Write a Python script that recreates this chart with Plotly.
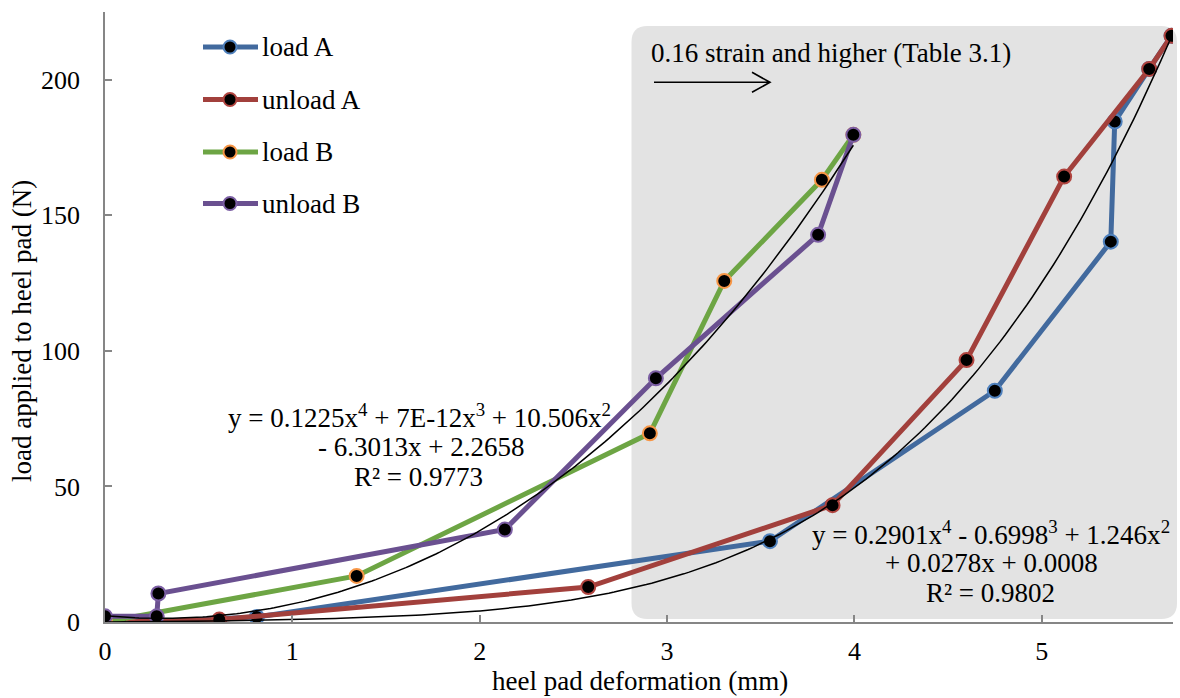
import numpy as np
import plotly.graph_objects as go

# ---------------- data ----------------
load_a_x = [0.204, 0.81, 3.549, 4.749, 5.368, 5.389, 5.573, 5.692]
load_a_y = [0.0, 1.85, 29.8, 85.3, 140.3, 184.6, 204.0, 216.2]

unload_a_x = [5.692, 5.573, 5.119, 4.598, 3.883, 2.579, 0.610, 0.080]
unload_a_y = [216.2, 204.0, 164.3, 96.6, 43.1, 12.9, 0.9, 0.0]

load_b_x = [0.0, 1.343, 2.908, 3.305, 3.826, 3.994]
load_b_y = [0.0, 17.0, 69.6, 125.8, 163.1, 179.7]

unload_b_x = [3.994, 3.806, 2.940, 2.134, 0.285, 0.276, 0.0]
unload_b_y = [179.7, 142.8, 89.9, 34.1, 10.5, 2.1, 2.1]

# polynomial trendline coefficients as printed on the chart (x^4 .. x^0)
trend_a_coef = [0.2901, -0.6998, 1.246, 0.0278, 0.0008]
trend_b_coef = [0.1225, 7e-12, 10.506, -6.3013, 2.2658]

series_names = ["load A", "unload A", "load B", "unload B"]
line_colors = ["#426A9E", "#A2403C", "#6DA544", "#6A5090"]
edge_colors = ["#4F81BD", "#B0443F", "#F79646", "#7B5EA3"]

FONT = "Liberation Serif, Times New Roman, serif"
TXT = 27

# ---------------- layout geometry ----------------
W, H = 1180, 698
ML, MR, MT, MB = 105, 7, 12, 76
PW, PH = W - ML - MR, H - MT - MB


def px_x(p):
    return (p - ML) / PW


def px_y(p):
    return (H - MB - p) / PH


fig = go.Figure()

xs_data = [load_a_x, unload_a_x, load_b_x, unload_b_x]
ys_data = [load_a_y, unload_a_y, load_b_y, unload_b_y]
for name, xv, yv, lc, ec in zip(series_names, xs_data, ys_data, line_colors, edge_colors):
    fig.add_trace(go.Scatter(
        x=xv, y=yv, name=name, mode="lines+markers",
        line=dict(color=lc, width=5),
        marker=dict(size=14, color="black", line=dict(color=ec, width=2)),
        showlegend=False,
    ))

# trendlines
xa = np.linspace(0, max(load_a_x + unload_a_x), 200)
xb = np.linspace(0, max(load_b_x + unload_b_x), 200)
fig.add_trace(go.Scatter(x=xa, y=np.polyval(trend_a_coef, xa), mode="lines",
                         line=dict(color="black", width=1.5), showlegend=False,
                         hoverinfo="skip"))
fig.add_trace(go.Scatter(x=xb, y=np.polyval(trend_b_coef, xb), mode="lines",
                         line=dict(color="black", width=1.5), showlegend=False,
                         hoverinfo="skip"))

shapes = []
# shaded rounded region
x0, x1 = px_x(631.5), px_x(1177)
y0, y1 = px_y(619), px_y(26)
r = 16
rx, ry = r / PW, r / PH
path = (f"M {x0+rx},{y0} L {x1-rx},{y0} Q {x1},{y0} {x1},{y0+ry} "
        f"L {x1},{y1-ry} Q {x1},{y1} {x1-rx},{y1} "
        f"L {x0+rx},{y1} Q {x0},{y1} {x0},{y1-ry} "
        f"L {x0},{y0+ry} Q {x0},{y0} {x0+rx},{y0} Z")
shapes.append(dict(type="path", path=path, xref="paper", yref="paper",
                   fillcolor="#E3E3E3", line=dict(width=0), layer="below"))

# arrow
ay = px_y(82.3)
ax0, ax1 = px_x(654), px_x(770)
hx = px_x(752)
hy1, hy2 = px_y(72.3), px_y(92.3)
shapes.append(dict(type="path", xref="paper", yref="paper",
                   path=f"M {ax0},{ay} L {ax1},{ay} M {hx},{hy1} L {ax1},{ay} L {hx},{hy2}",
                   line=dict(color="black", width=1.6)))

annotations = []
# custom legend
leg_rows = [47, 99.5, 152, 203.5]
for name, lc, ec, row in zip(series_names, line_colors, edge_colors, leg_rows):
    shapes.append(dict(type="line", xref="paper", yref="paper",
                       xsizemode="pixel", ysizemode="pixel",
                       xanchor=px_x(230), yanchor=px_y(row),
                       x0=-27, x1=28, y0=0, y1=0,
                       line=dict(color=lc, width=5)))
    shapes.append(dict(type="circle", xref="paper", yref="paper",
                       xsizemode="pixel", ysizemode="pixel",
                       xanchor=px_x(230), yanchor=px_y(row),
                       x0=-6.5, x1=6.5, y0=-6.5, y1=6.5,
                       fillcolor="black", line=dict(color=ec, width=2)))
    annotations.append(dict(text=name, xref="paper", yref="paper",
                            x=px_x(260), y=px_y(row), xanchor="left", yanchor="middle",
                            showarrow=False, font=dict(family=FONT, size=TXT, color="black")))


def txt(text, x, y, xanchor="center", angle=0):
    annotations.append(dict(text=text, xref="paper", yref="paper", x=px_x(x), y=px_y(y),
                            xanchor=xanchor, yanchor="middle", showarrow=False,
                            textangle=angle,
                            font=dict(family=FONT, size=TXT, color="black")))


txt("0.16 strain and higher (Table 3.1)", 649, 53, xanchor="left")
txt("y = 0.1225x<sup>4</sup> + 7E-12x<sup>3</sup> + 10.506x<sup>2</sup>", 419, 416)
txt("- 6.3013x + 2.2658", 421, 447)
txt("R² = 0.9773", 418, 477)
txt("y = 0.2901x<sup>4</sup> - 0.6998<sup>3</sup> + 1.246x<sup>2</sup>", 991, 533)
txt("+ 0.0278x + 0.0008", 991, 563)
txt("R² = 0.9802", 990, 593)
txt("heel pad deformation (mm)", 640, 681.5)
txt("load applied to heel pad (N)", 22, 331, angle=-90)

axis_common = dict(showline=True, linecolor="#868686", linewidth=1.5,
                   ticks="inside", ticklen=7, tickwidth=1.5, tickcolor="#868686",
                   showgrid=False, zeroline=False,
                   tickfont=dict(family=FONT, size=26, color="black"))

fig.update_layout(
    width=W, height=H,
    margin=dict(l=ML, r=MR, t=MT, b=MB, pad=0),
    paper_bgcolor="white", plot_bgcolor="rgba(0,0,0,0)",
    xaxis=dict(range=[0, 5.7], dtick=1, tick0=0, ticklabelstandoff=5, **axis_common),
    yaxis=dict(range=[0, 225], dtick=50, tick0=0, ticklabelstandoff=18, **axis_common),
    shapes=shapes, annotations=annotations,
    showlegend=False,
)

fig.write_html("out.html")
